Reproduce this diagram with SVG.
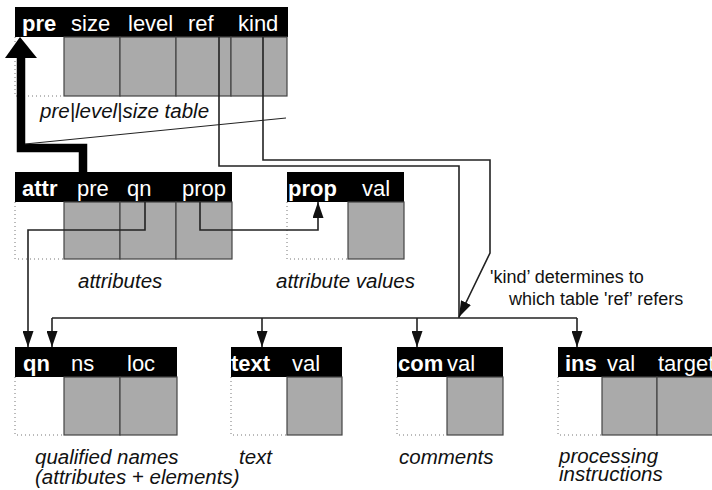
<svg xmlns="http://www.w3.org/2000/svg" width="712" height="490" viewBox="0 0 712 490">
<style>
text{font-family:"Liberation Sans",Arial,Helvetica,sans-serif}
.hd{fill:#000}
.ht{fill:#fff;font-size:22px}
.hb{fill:#fff;font-size:22px;font-weight:bold}
.cell{fill:#aaaaaa;stroke:#444;stroke-width:1.2}
.dot{fill:none;stroke:#777;stroke-width:1;stroke-dasharray:1 3}
.lbl{font-size:20.5px;font-style:italic;fill:#111}
.note{font-size:18px;fill:#111}
.con{fill:none;stroke:#222;stroke-width:1.6}
</style>
<defs>
<marker id="ah" viewBox="0 0 16 11" refX="16" refY="5.5" markerWidth="16" markerHeight="11" orient="auto" markerUnits="userSpaceOnUse">
<path d="M0,0 L16,5.5 L0,11 z" fill="#111"/>
</marker>
</defs>
<rect width="712" height="490" fill="#fff"/>

<g id="pre-table">
<rect class="hd" x="15" y="7" width="273" height="30"/>
<rect class="cell" x="64" y="37" width="56" height="59"/>
<rect class="cell" x="120" y="37" width="56" height="59"/>
<rect class="cell" x="176" y="37" width="55" height="59"/>
<rect class="cell" x="231" y="37" width="56" height="59"/>
<path class="dot" d="M15,37 V96 H64"/>
<text class="hb" x="22" y="31">pre</text>
<text class="ht" x="71" y="31">size</text>
<text class="ht" x="128" y="31">level</text>
<text class="ht" x="188" y="31">ref</text>
<text class="ht" x="238" y="31">kind</text>
<text class="lbl" x="40" y="118">pre|level|size table</text>
</g>

<g id="attr-table">
<rect class="hd" x="15" y="172" width="217" height="30"/>
<rect class="cell" x="64" y="202" width="56" height="57"/>
<rect class="cell" x="120" y="202" width="56" height="57"/>
<rect class="cell" x="176" y="202" width="56" height="57"/>
<path class="dot" d="M15,202 V259 H64"/>
<text class="hb" x="22" y="196">attr</text>
<text class="ht" x="77" y="196">pre</text>
<text class="ht" x="127" y="196">qn</text>
<text class="ht" x="182" y="196">prop</text>
<text class="lbl" x="78" y="288">attributes</text>
</g>

<g id="prop-table">
<rect class="hd" x="287" y="172" width="117" height="30"/>
<rect class="cell" x="348" y="202" width="56" height="57"/>
<path class="dot" d="M287,202 V259 H348"/>
<text class="hb" x="288" y="196">prop</text>
<text class="ht" x="362" y="196">val</text>
<text class="lbl" x="276" y="288">attribute values</text>
</g>

<g id="qn-table">
<rect class="hd" x="15" y="347" width="162" height="30"/>
<rect class="cell" x="64" y="377" width="56" height="58"/>
<rect class="cell" x="120" y="377" width="57" height="58"/>
<path class="dot" d="M15,377 V435 H64"/>
<text class="hb" x="23" y="371">qn</text>
<text class="ht" x="71" y="371">ns</text>
<text class="ht" x="127" y="371">loc</text>
<text class="lbl" x="35" y="464">qualified names</text>
<text class="lbl" x="35" y="484">(attributes + elements)</text>
</g>

<g id="text-table">
<rect class="hd" x="231" y="347" width="111" height="30"/>
<rect class="cell" x="287" y="377" width="55" height="58"/>
<path class="dot" d="M231,377 V435 H287"/>
<text class="hb" x="231" y="371">text</text>
<text class="ht" x="292" y="371">val</text>
<text class="lbl" x="239" y="464">text</text>
</g>

<g id="com-table">
<rect class="hd" x="397" y="347" width="106" height="30"/>
<rect class="cell" x="447" y="377" width="56" height="58"/>
<path class="dot" d="M397,377 V435 H447"/>
<text class="hb" x="398" y="371">com</text>
<text class="ht" x="447" y="371">val</text>
<text class="lbl" x="399" y="464">comments</text>
</g>

<g id="ins-table">
<rect class="hd" x="558" y="347" width="160" height="30"/>
<rect class="cell" x="602" y="377" width="55" height="58"/>
<rect class="cell" x="657" y="377" width="61" height="58"/>
<path class="dot" d="M558,377 V435 H602"/>
<text class="hb" x="565" y="371">ins</text>
<text class="ht" x="607" y="371">val</text>
<text class="ht" x="658" y="371">target</text>
<text class="lbl" x="559" y="463">processing</text>
<text class="lbl" x="559" y="481">instructions</text>
</g>

<g id="connectors">
<path d="M83,172 V148 H21 V56" fill="none" stroke="#000" stroke-width="8.5"/>
<path d="M20,37 L37,58 L5,58 z" fill="#000"/>
<path d="M25,144 L286,118" fill="none" stroke="#222" stroke-width="1"/>
<path class="con" d="M219,37 V166 H459 V318"/>
<path class="con" d="M263,37 V160 H490 V253 L459,317" marker-end="url(#ah)"/>
<path class="con" d="M52,318 H577"/>
<path class="con" d="M52,318 V347" marker-end="url(#ah)"/>
<path class="con" d="M262,318 V347" marker-end="url(#ah)"/>
<path class="con" d="M417,318 V347" marker-end="url(#ah)"/>
<path class="con" d="M577,318 V347" marker-end="url(#ah)"/>
<path class="con" d="M145,202 V230 H28 V347" marker-end="url(#ah)"/>
<path class="con" d="M200,202 V230 H318 V202" marker-end="url(#ah)"/>
<text class="note" x="490" y="283">'kind’ determines to</text>
<text class="note" x="509" y="305">which table 'ref’ refers</text>
</g>
</svg>
